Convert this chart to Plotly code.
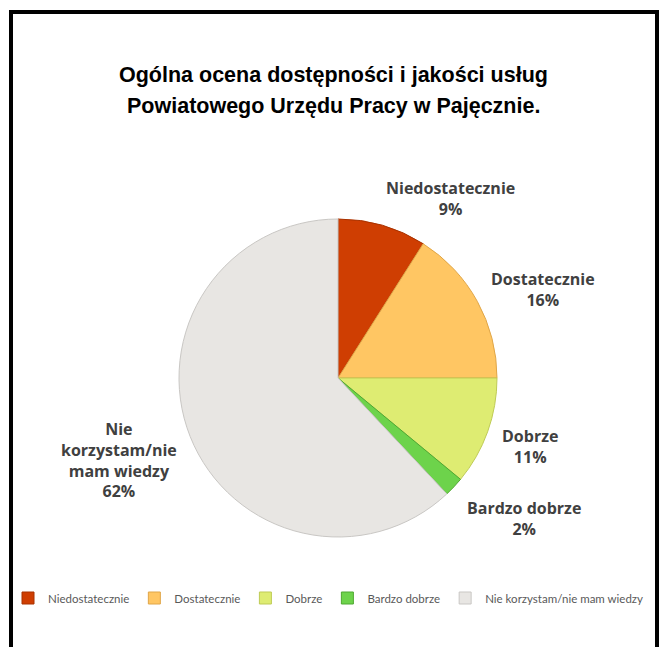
import plotly.graph_objects as go

# ---- data ----
categories = ["Niedostatecznie", "Dostatecznie", "Dobrze", "Bardzo dobrze",
              "Nie korzystam/nie mam wiedzy"]
values = [9, 16, 11, 2, 62]
label_texts = ["Niedostatecznie", "Dostatecznie", "Dobrze", "Bardzo dobrze",
               "Nie<br>korzystam/nie<br>mam wiedzy"]
title_lines = ["Ogólna ocena dostępności i jakości usług",
               "Powiatowego Urzędu Pracy w Pajęcznie."]

# ---- styles / layout (pixel positions are in page coordinates) ----
W, H = 651, 639   # leaves room for the 8px page margin without scrollbars
OFF = 8           # default page body margin
colors = ["#CF3E02", "#FFC663", "#DEEC72", "#6DD34B", "#E8E6E3"]
edge_colors = ["#A83200", "#E0A648", "#BFCB55", "#4FA832", "#C9C7C4"]
label_pos = [(450, 187), (543, 278), (530, 435), (524, 507), (119, 427)]
line_h = 22
title_pos = [(333, 75), (333, 106)]
pie_cx, pie_cy, pie_r = 338, 378, 159


def px(x):
    return (x - OFF) / W


def py(y):
    return 1 - (y - OFF) / H


fig = go.Figure()
fig.add_trace(go.Pie(
    labels=categories,
    values=values,
    sort=False,
    direction="clockwise",
    rotation=0,
    marker=dict(colors=colors, line=dict(color=edge_colors, width=1)),
    textinfo="none",
    hoverinfo="skip",
    domain=dict(x=[px(pie_cx - pie_r), px(pie_cx + pie_r)],
                y=[py(pie_cy + pie_r), py(pie_cy - pie_r)]),
))

total = sum(values)
annotations = []
for txt, v, (lx, ly) in zip(label_texts, values, label_pos):
    nlines = txt.count("<br>") + 2
    cy = ly + (nlines - 1) * line_h / 2
    annotations.append(dict(
        text=f"<b>{txt}<br>{round(100 * v / total)}%</b>",
        x=px(lx), y=py(cy), xref="paper", yref="paper",
        showarrow=False, xanchor="center", yanchor="middle",
        font=dict(family="Open Sans, Lato, sans-serif", size=16, color="#404040"),
        align="center",
    ))

for line, (tx, ty) in zip(title_lines, title_pos):
    annotations.append(dict(
        text=f"<b>{line}</b>",
        x=px(tx), y=py(ty), xref="paper", yref="paper",
        showarrow=False, xanchor="center", yanchor="middle",
        font=dict(family="Liberation Sans, Arial, sans-serif", size=21.5, color="#000000"),
    ))

fig.update_layout(
    width=W, height=H,
    margin=dict(l=0, r=0, t=0, b=0),
    paper_bgcolor="white",
    plot_bgcolor="white",
    annotations=annotations,
    showlegend=True,
    legend=dict(
        orientation="h",
        x=0, xanchor="left",
        y=py(598), yanchor="middle",
        font=dict(family="Lato, Open Sans, sans-serif", size=11.5, color="#595959"),
        itemwidth=30,
        traceorder="normal",
        bgcolor="rgba(0,0,0,0)",
    ),
    shapes=[dict(
        type="rect", xref="paper", yref="paper",
        x0=px(11), x1=px(657), y0=py(665), y1=py(12),
        line=dict(color="black", width=4), fillcolor="rgba(0,0,0,0)",
    )],
)

fig.write_html("out.html")
